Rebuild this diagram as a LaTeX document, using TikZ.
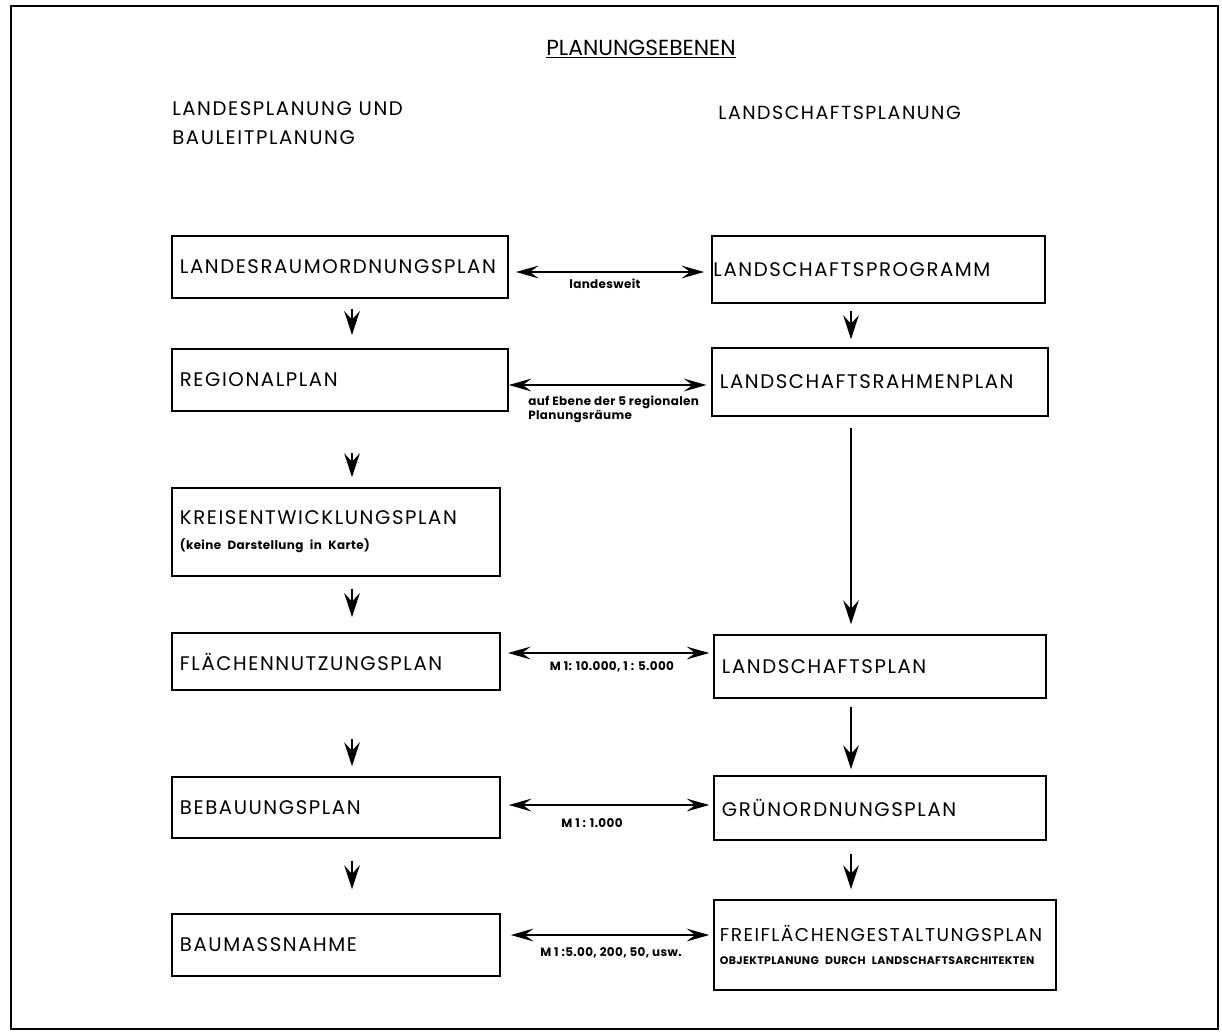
\documentclass[tikz,border=0pt]{standalone}
\usepackage{fontspec}
\setmainfont{Poppins}
\newfontfamily\planfont[LetterSpace=8]{Poppins}
\newfontfamily\kleinfont[LetterSpace=3]{Poppins}
\usetikzlibrary{positioning, calc, arrows.meta}

\newcommand{\klein}{\kleinfont\bfseries\fontsize{8.5}{10}\selectfont}

\tikzset{
    planbox/.style={draw, line width=1pt, inner xsep=0.2cm, inner ysep=0pt,
        align=left, font=\planfont\fontsize{14}{16}\selectfont},
    hpfeil/.style={{Stealth[length=16pt,width=9pt,inset=6pt]}-{Stealth[length=16pt,width=9pt,inset=6pt]},
        line width=2pt},
    vpfeil/.style={-{Stealth[length=17pt,width=11pt,inset=6pt]}, line width=2pt},
    kleintext/.style={font=\klein, inner sep=0pt},
}

\begin{document}
\begin{tikzpicture}[x=0.025cm, y=-0.025cm]
    \useasboundingbox (0,0) rectangle (1222,1035);

    % Rahmen
    \draw[line width=1.6pt] (11,6) rectangle (1218,1029);

    % Ueberschriften
    \node[font=\fontsize{15.5}{18}\selectfont] (titel) at (641,49) {\underline{PLANUNGSEBENEN}};
    \node[anchor=north west, align=left, inner sep=0pt, font=\planfont\fontsize{14}{21}\selectfont]
        (kopflinks) at (172,101) {LANDESPLANUNG UND\\BAULEITPLANUNG};
    \node[anchor=west, inner sep=0pt, font=\planfont\fontsize{13.5}{15}\selectfont]
        (kopfrechts) at (718,113) {LANDSCHAFTSPLANUNG};

    % linke Spalte
    \node[planbox, text width=8.0cm, minimum height=1.55cm] (lrop) at (340,267) {LANDESRAUMORDNUNGSPLAN};
    \node[planbox, text width=8.0cm, minimum height=1.55cm] (regio) at (340,380) {REGIONALPLAN};
    \node[planbox, text width=7.8cm, minimum height=2.2cm] (krep) at (336,532)
        {KREISENTWICKLUNGSPLAN\\[2pt]{\klein (keine Darstellung in Karte)}};
    \node[planbox, text width=7.8cm, minimum height=1.425cm] (fnp) at (336,661.5) {FLÄCHENNUTZUNGSPLAN};
    \node[planbox, text width=7.8cm, minimum height=1.525cm] (bplan) at (336,807.5) {BEBAUUNGSPLAN};
    \node[planbox, text width=7.8cm, minimum height=1.55cm] (baum) at (336,945) {BAUMASSNAHME};

    % rechte Spalte
    \node[planbox, inner xsep=1pt, text width=8.25cm, minimum height=1.675cm] (lprog) at (878.5,269.5) {LANDSCHAFTSPROGRAMM};
    \node[planbox, text width=8.0cm, minimum height=1.7cm] (lrp) at (880,382) {LANDSCHAFTSRAHMENPLAN};
    \node[planbox, text width=7.9cm, minimum height=1.575cm] (lplan) at (880,666.5) {LANDSCHAFTSPLAN};
    \node[planbox, text width=7.9cm, minimum height=1.6cm] (gop) at (880,808) {GRÜNORDNUNGSPLAN};
    \node[planbox, inner xsep=0.15cm, text width=8.25cm, minimum height=2.25cm,
        font=\planfont\fontsize{13.2}{15}\selectfont] (fgp) at (885,945)
        {FREIFLÄCHENGESTALTUNGSPLAN\\[1pt]{\klein\fontsize{7.8}{9}\selectfont OBJEKTPLANUNG DURCH LANDSCHAFTSARCHITEKTEN}};

    % senkrechte Pfeile
    \coordinate (lx) at (352,0);
    \coordinate (rx) at (851,0);
    \draw[vpfeil, shorten <=0.25cm, shorten >=0.33cm] (lrop.south -| lx) -- (regio.north -| lx);
    \draw[vpfeil, shorten <=1.02cm, shorten >=0.25cm] (regio.south -| lx) -- (krep.north -| lx);
    \draw[vpfeil, shorten <=0.3cm, shorten >=0.38cm] (krep.south -| lx) -- (fnp.north -| lx);
    \draw[vpfeil, shorten <=1.2cm, shorten >=0.25cm] (fnp.south -| lx) -- (bplan.north -| lx);
    \draw[vpfeil, shorten <=0.55cm, shorten >=0.6cm] (bplan.south -| lx) -- (baum.north -| lx);

    \draw[vpfeil, shorten <=0.18cm, shorten >=0.2cm] (lprog.south -| rx) -- (lrp.north -| rx);
    \draw[vpfeil, shorten <=0.28cm, shorten >=0.25cm] (lrp.south -| rx) -- (lplan.north -| rx);
    \draw[vpfeil, shorten <=0.2cm, shorten >=0.15cm] (lplan.south -| rx) -- (gop.north -| rx);
    \draw[vpfeil, shorten <=0.33cm, shorten >=0.25cm] (gop.south -| rx) -- (fgp.north -| rx);

    % waagerechte Pfeile
    \draw[hpfeil, shorten <=0.18cm, shorten >=0.18cm] (lrop.east |- 0,272) -- (lprog.west |- 0,272);
    \draw[hpfeil, shorten >=0.12cm] (regio.east |- 0,385) -- (lrp.west |- 0,385);
    \draw[hpfeil, shorten <=0.18cm, shorten >=0.1cm] (fnp.east |- 0,653) -- (lplan.west |- 0,653);
    \draw[hpfeil, shorten <=0.2cm, shorten >=0.1cm] (bplan.east |- 0,805) -- (gop.west |- 0,805);
    \draw[hpfeil, shorten <=0.25cm, shorten >=0.1cm] (baum.east |- 0,935) -- (fgp.west |- 0,935);

    % Beschriftungen
    \node[kleintext] (landesweit) at (605,284) {landesweit};
    \node[kleintext, anchor=west, align=left] (regionen) at (528,409)
        {auf Ebene der 5 regionalen\\Planungsräume};
    \node[kleintext] (massfnp) at (612,667) {M 1: 10.000, 1 : 5.000};
    \node[kleintext] (massbplan) at (592,823) {M 1 : 1.000};
    \node[kleintext] (massbaum) at (611,953) {M 1 :5.00, 200, 50, usw.};

\end{tikzpicture}
\end{document}
